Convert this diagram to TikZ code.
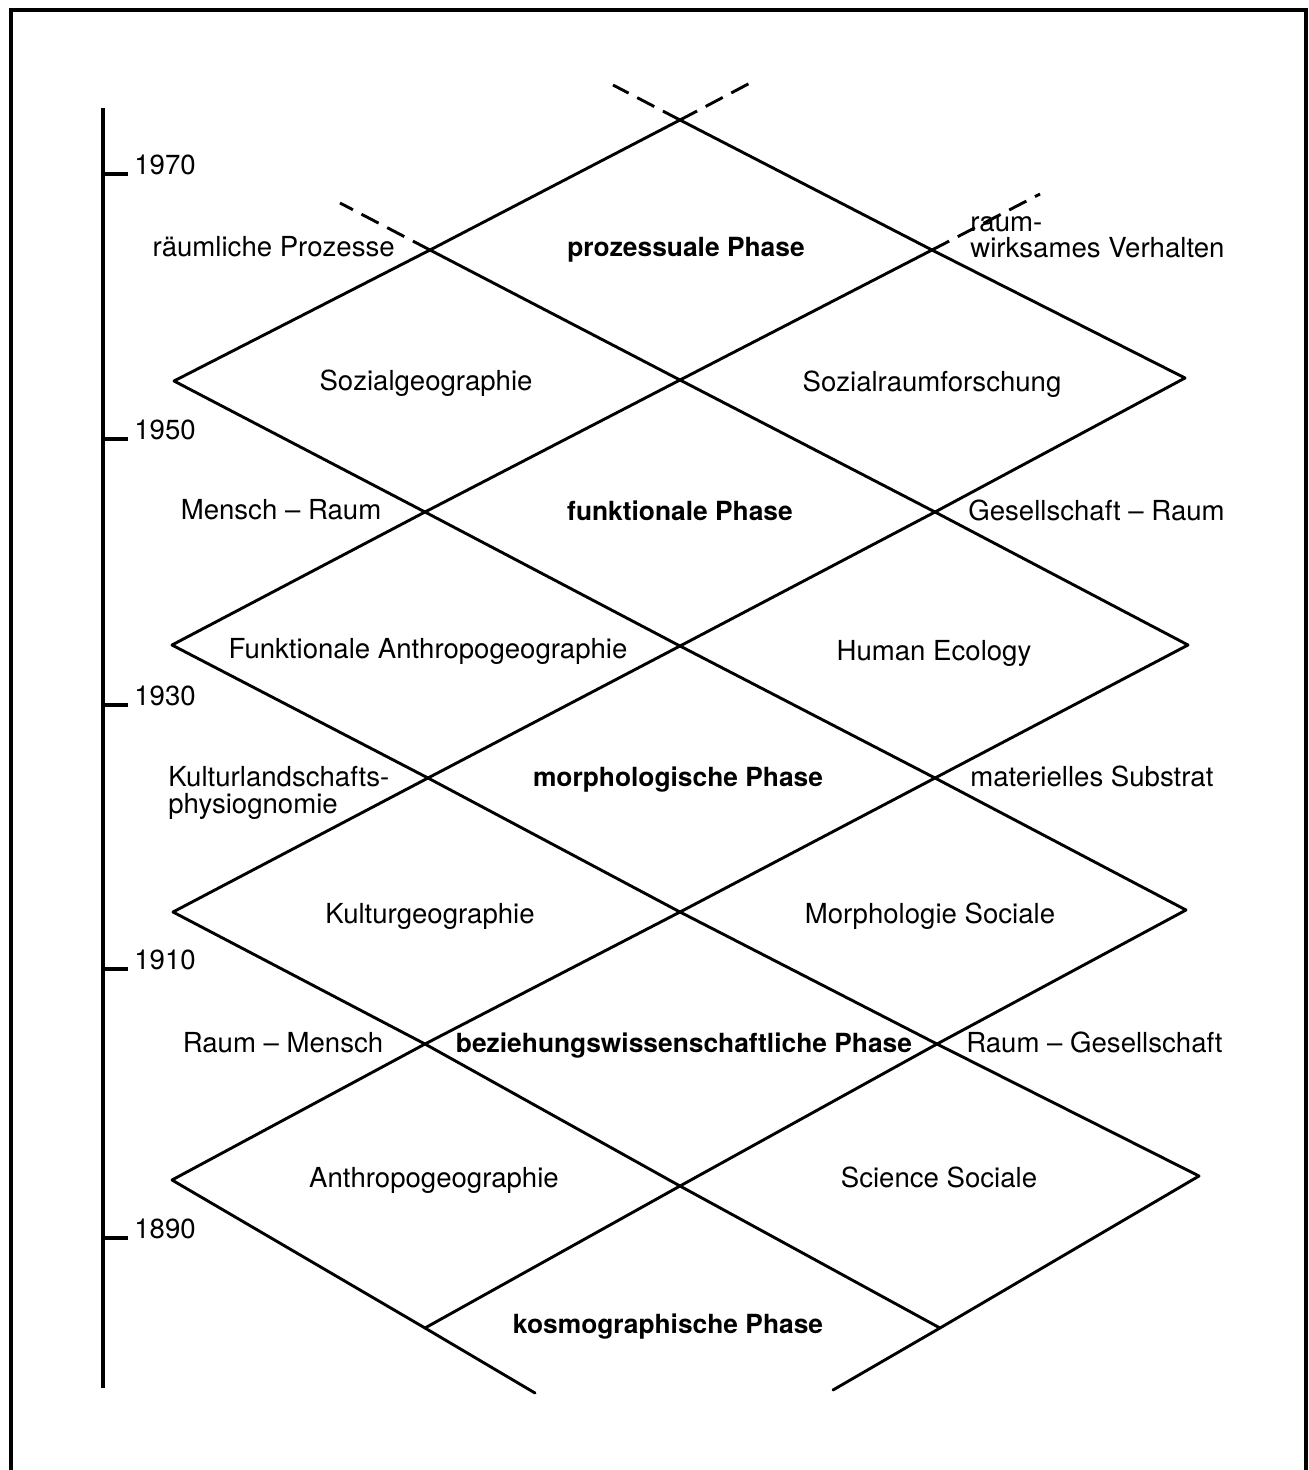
\documentclass[tikz,border=0pt]{standalone}
\usepackage{fontspec}
\setmainfont{TeX Gyre Heros}
\begin{document}
\begin{tikzpicture}[x=0.02cm,y=-0.02cm,
  lat/.style={line width=1.65pt, line cap=round, line join=miter},
  dsh/.style={line width=1.65pt, dash pattern=on 11pt off 5.5pt},
  frm/.style={line width=1.8pt},
  lbl/.style={font=\fontsize{15.7}{18}\selectfont, inner sep=0pt, anchor=base},
  lblw/.style={lbl, anchor=base west},
  lble/.style={lbl, anchor=base east},
  phase/.style={font=\fontsize{15}{18}\selectfont\bfseries, inner sep=0pt, anchor=base}]
\useasboundingbox (0,0) rectangle (1308,1470);
% frame
\draw[frm] (11,1470) -- (11,10) -- (1306,10) -- (1306,1470);
% time axis
\coordinate (ax0) at (103,108);
\coordinate (ax1) at (103,1388);
\draw[frm] (ax0) -- (ax1);
\foreach \yy/\yr in {174/1970,439/1950,705/1930,969/1910,1238/1890}{
  \coordinate (t\yr) at (103,\yy);
  \node[lblw] (y\yr) at (134,\yy) {\yr};
  \draw[frm] (t\yr) -- (y\yr.base west -| 128,0);
}
% lattice vertices
\coordinate (T) at (680,120);
\coordinate (AL) at (430,250);  \coordinate (AR) at (932,250);
\coordinate (BL) at (174,381);  \coordinate (BC) at (680,380);  \coordinate (BR) at (1185,378);
\coordinate (CL) at (425,512);  \coordinate (CR) at (935,512);
\coordinate (DL) at (172,645);  \coordinate (DC) at (680,646);  \coordinate (DR) at (1188,645);
\coordinate (EL) at (428,778);  \coordinate (ER) at (935,778);
\coordinate (FL) at (173,912);  \coordinate (FC) at (680,912);  \coordinate (FR) at (1186,910);
\coordinate (GL) at (425,1044); \coordinate (GR) at (937,1044);
\coordinate (HL) at (172,1180); \coordinate (HC) at (680,1186); \coordinate (HR) at (1199,1176);
\coordinate (IL) at (425,1328); \coordinate (IR) at (940,1328);
\coordinate (LE) at (535,1393); \coordinate (RE) at (833,1390);
\coordinate (dT1) at (613,85);  \coordinate (dT2) at (752,82);
\coordinate (dL) at (340,203);  \coordinate (dR) at (1040,194);
% dashed continuations
\draw[dsh] (T) -- (dT1);
\draw[dsh] (T) -- (dT2);
\draw[dsh] (AL) -- (dL);
\draw[dsh] (AR) -- (dR);
% solid lattice
\draw[lat] (AL) -- (T) -- (AR);
\draw[lat] (BL) -- (AL) -- (BC) -- (AR) -- (BR);
\draw[lat] (BL) -- (CL) -- (BC) -- (CR) -- (BR);
\draw[lat] (DL) -- (CL) -- (DC) -- (CR) -- (DR);
\draw[lat] (DL) -- (EL) -- (DC) -- (ER) -- (DR);
\draw[lat] (FL) -- (EL) -- (FC) -- (ER) -- (FR);
\draw[lat] (FL) -- (GL) -- (FC) -- (GR) -- (FR);
\draw[lat] (HL) -- (GL) -- (HC) -- (GR) -- (HR);
\draw[lat] (HL) -- (IL) -- (LE);
\draw[lat] (IL) -- (HC) -- (IR);
\draw[lat] (HR) -- (IR) -- (RE);
% labels
\node[lble] (l1) at (395,256) {räumliche Prozesse};
\node[phase] (p1) at (686,256) {prozessuale Phase};
\node[lblw] (r1a) at (970,231) {raum-};
\node[lblw] (r1b) at (970,257) {wirksames Verhalten};
\node[lbl] (s1) at (426,390) {Sozialgeographie};
\node[lbl] (s2) at (932,391) {Sozialraumforschung};
\node[lbl] (l2) at (281,519) {Mensch – Raum};
\node[phase] (p2) at (680,520) {funktionale Phase};
\node[lblw] (r2) at (968,520) {Gesellschaft – Raum};
\node[lbl] (s3) at (428,658) {Funktionale Anthropogeographie};
\node[lbl] (s4) at (934,660) {Human Ecology};
\node[lblw] (l3a) at (168,786) {Kulturlandschafts-};
\node[lblw] (l3b) at (168,813) {physiognomie};
\node[phase] (p3) at (678,786) {morphologische Phase};
\node[lblw] (r3) at (970,786) {materielles Substrat};
\node[lbl] (s5) at (430,923) {Kulturgeographie};
\node[lbl] (s6) at (930,923) {Morphologie Sociale};
\node[lbl] (l4) at (283,1052) {Raum – Mensch};
\node[phase] (p4) at (684,1052) {beziehungswissenschaftliche Phase};
\node[lblw] (r4) at (966,1052) {Raum – Gesellschaft};
\node[lbl] (s7) at (434,1187) {Anthropogeographie};
\node[lbl] (s8) at (939,1187) {Science Sociale};
\node[phase] (p5) at (668,1333) {kosmographische Phase};
\end{tikzpicture}
\end{document}
